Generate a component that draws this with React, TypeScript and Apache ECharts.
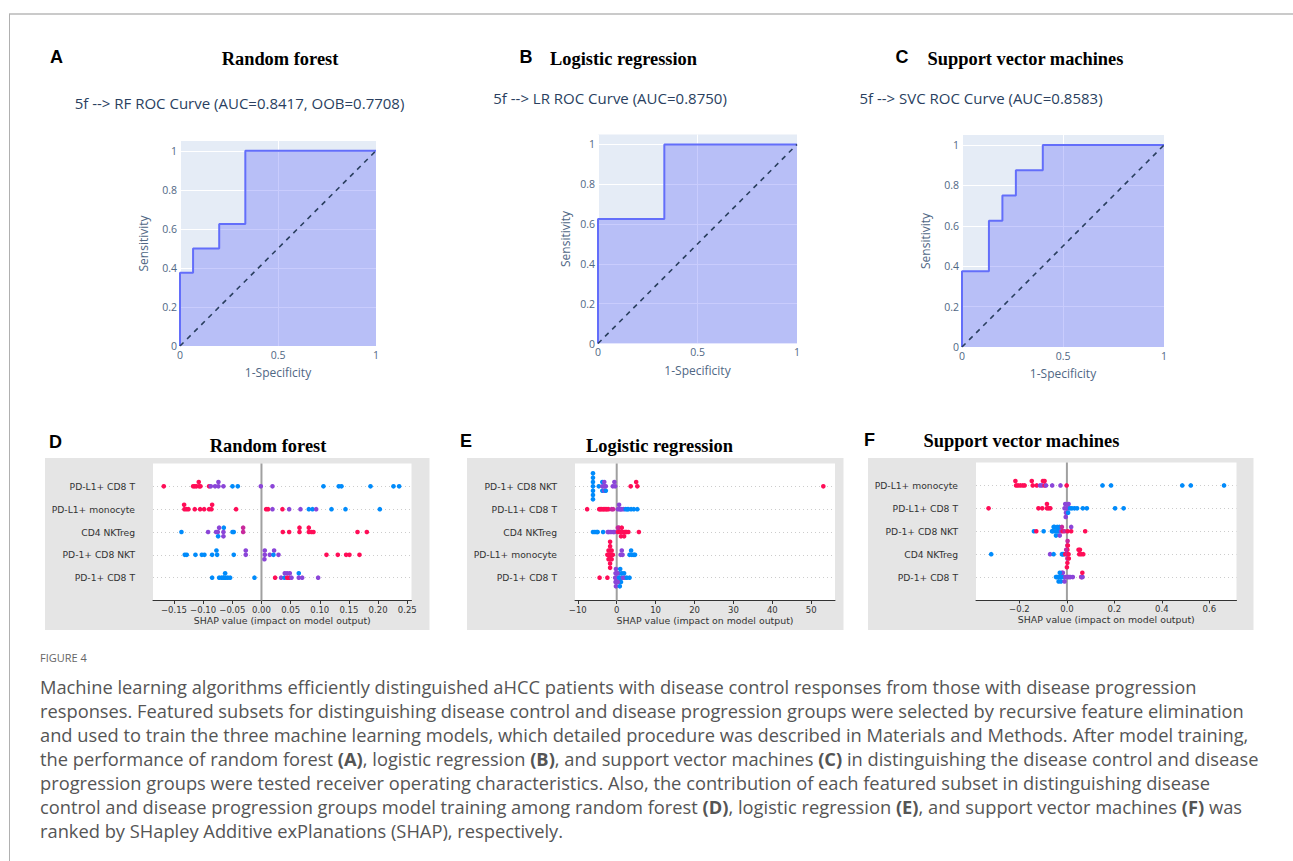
import React, { useEffect, useRef } from "react";
import * as echarts from "echarts";

// ---------------- ROC data ----------------
const rocXTicks = [0, 0.5, 1];
const rfFpr = [0, 0, 0.0667, 0.0667, 0.2, 0.2, 0.3333, 0.3333, 1];
const rfTpr = [0, 0.375, 0.375, 0.5, 0.5, 0.625, 0.625, 1, 1];
const lrFpr = [0, 0, 0.3333, 0.3333, 1];
const lrTpr = [0, 0.625, 0.625, 1, 1];
const svcFpr = [0, 0, 0.1333, 0.1333, 0.2, 0.2, 0.2667, 0.2667, 0.4, 0.4, 1];
const svcTpr = [0, 0.375, 0.375, 0.625, 0.625, 0.75, 0.75, 0.875, 0.875, 1, 1];
const diagX = [0, 1];
const diagY = [0, 1];
const rocSubtitles = [
  "5f --> RF ROC Curve (AUC=0.8417, OOB=0.7708)",
  "5f --> LR ROC Curve (AUC=0.8750)",
  "5f --> SVC ROC Curve (AUC=0.8583)",
];
const modelTitles = ["Random forest", "Logistic regression", "Support vector machines"];
const panelLetters = ["A", "B", "C", "D", "E", "F"];

// ---------------- SHAP data ----------------
// each point: [SHAP value, beeswarm level, feature value (0 = low/blue, 1 = high/red)]
const featuresD = ["PD-L1+ CD8 T", "PD-L1+ monocyte", "CD4 NKTreg", "PD-1+ CD8 NKT", "PD-1+ CD8 T"];
const shapD = [
  [[-0.1675,0,1],[-0.1172,0,1],[-0.1144,0,1],[-0.1115,0,1],[-0.1075,1,1],[-0.1069,0,1],[-0.1046,0,1],[-0.0898,0,1],[-0.0869,0,0.5],[-0.0795,0,0.5],[-0.0738,1,0.5],[-0.0738,0,0.5],[-0.0652,0,0.5],[-0.0497,0,0],[-0.0406,0,0],[-0.0011,0,0.5],[0.0189,0,0.5],[0.1063,0,0],[0.1326,0,0],[0.1372,0,0],[0.187,0,0],[0.2264,0,0],[0.2361,0,0]],
  [[-0.1326,1,1],[-0.1321,0,1],[-0.1286,0,1],[-0.1252,0,1],[-0.1144,0,1],[-0.1052,0,1],[-0.0983,0,1],[-0.0898,0,1],[-0.0858,0,1],[-0.0846,1,1],[-0.0435,0,1],[0.008,0,1],[0.0114,0,1],[0.0189,0,0.5],[0.036,0,1],[0.0475,0,0.5],[0.0669,0,0.5],[0.0812,0,0],[0.0875,0,0],[0.0938,0,0.5],[0.1201,0,0],[0.1441,0,0],[0.203,0,0]],
  [[-0.1372,0,0],[-0.0915,0,0.5],[-0.0778,0,0.5],[-0.0749,0,0.5],[-0.0726,1,0.5],[-0.0646,1,0],[-0.0652,0,0.5],[-0.0743,-1,0],[-0.0652,-1,0.5],[-0.0497,0,0],[-0.0475,0,0],[-0.0314,1,0.75],[-0.0314,0,0.75],[0.0366,0,1],[0.0475,0,1],[0.0652,1,1],[0.0652,0,1],[0.0812,1,1],[0.0812,0,1],[0.0858,0,1],[0.0892,0,1],[0.1647,0,1],[0.1807,0,1]],
  [[-0.1315,0,0],[-0.1281,0,0],[-0.1132,0,0],[-0.1023,0,0],[-0.0978,0,0],[-0.0846,0,0],[-0.0772,1,0],[-0.076,0,0],[-0.0475,0,0],[-0.0269,1,0.5],[-0.0269,0,0.5],[0.0057,1,0.5],[0.0057,0,0.5],[0.0051,-1,0.5],[0.0143,0,0.5],[0.0217,1,0.5],[0.0206,0,0],[0.0292,0,0.5],[0.1115,0,1],[0.1309,0,1],[0.1452,0,1],[0.1509,0,1],[0.1681,0,1]],
  [[-0.0846,0,0],[-0.0726,0,0],[-0.0686,0,0],[-0.0652,0,0],[-0.0645,0,0],[-0.0623,1,0],[-0.0612,0,0],[-0.0577,0,0],[-0.0537,0,0],[-0.012,0,0],[0.0234,0,1],[0.0337,0,0.5],[0.0395,0,0],[0.04,1,0.5],[0.044,0,1],[0.044,1,0.5],[0.0475,0,1],[0.0486,1,0.5],[0.0515,0,0.5],[0.064,1,0],[0.064,0,0.5],[0.0698,0,0.5],[0.0972,0,0.5]],
];
const ticksD = [-0.15, -0.1, -0.05, 0, 0.05, 0.1, 0.15, 0.2, 0.25];

const featuresE = ["PD-1+ CD8 NKT", "PD-L1+ CD8 T", "CD4 NKTreg", "PD-L1+ monocyte", "PD-1+ CD8 T"];
const shapE = [
  [[-6.1,-3,0],[-6.1,-2,0],[-6.1,-1,0],[-6.1,0,0],[-6.1,1,0],[-6.1,2,0],[-6.1,3,0],[-4.6,0,0],[-3.7,-1,0],[-3.7,0,0.5],[-3.7,1,0],[-3.2,-1,0.5],[-3.2,0,0.5],[-3.2,1,0.5],[-2.8,-1,0],[-2.8,0,0.5],[-1.0,0,0.5],[-0.6,1,0.5],[-0.4,0,0.5],[3.6,0,1],[5.0,1,1],[5.3,0,1],[53.1,0,1]],
  [[-7.6,0,1],[-4.5,0,1],[-4.2,0,1],[-3.9,0,1],[-3.5,0,1],[-3.2,0,1],[-2.8,0,1],[-2.5,0,1],[-2.1,0,1],[-1.3,0,0.75],[-0.9,0,0.75],[0.3,0,0.5],[0.6,1,0.5],[0.8,0,0.5],[1.0,0,0.5],[1.3,0,0.5],[1.8,0,0.5],[2.3,0,0],[2.7,0,0],[3.0,0,0],[3.7,0,0],[4.4,0,0],[5.3,0,0]],
  [[-6.1,0,0],[-5.6,0,0],[-5.1,0,0],[-4.9,0,0],[-3.5,0,0],[-2.3,0,0.5],[-2.0,0,0.5],[-1.5,0,0.5],[-0.9,0,0.5],[-0.6,0,0.5],[0.3,1,0.75],[0.6,1,0.75],[1.3,1,1],[0.3,0,1],[0.9,0,1],[1.5,0,1],[2.0,0,1],[2.3,0,1],[2.5,0,1],[3.0,0,1],[1.1,-1,1],[1.9,-1,1],[5.7,0,1]],
  [[-1.7,-3,1],[-1.7,-2,1],[-1.7,-1,1],[-1.7,0,1],[-1.7,1,1],[-1.7,2,1],[-1.7,3,1],[-2.1,0,1],[-1.3,0,1],[-2.1,1,1],[-1.3,-1,1],[-2.1,-1,1],[-1.3,1,1],[-2.4,0,1],[-1.0,0,1],[1.0,0,0.5],[1.3,1,0.5],[1.5,0,0.5],[3.3,0,0],[3.7,1,0],[3.9,0,0],[4.4,0,0],[4.7,0,0]],
  [[-4.4,0,1],[-2.4,0,1],[-0.4,0,0.5],[0.0,0,0.5],[0.6,0,0],[1.1,0,0],[1.6,0,0.5],[2.1,0,0.5],[3.3,0,0],[-0.3,1,0.5],[0.6,1,0],[1.3,1,0],[-0.3,-1,0.5],[0.6,-1,0],[1.1,-1,0],[-0.2,2,0.5],[0.9,2,0],[-0.2,-2,0.5],[0.8,-2,0],[0.2,1,0.5],[0.3,-1,0.5],[2.6,0,0],[1.9,1,0]],
];
const ticksE = [-10, 0, 10, 20, 30, 40, 50];

const featuresF = ["PD-L1+ monocyte", "PD-L1+ CD8 T", "PD-1+ CD8 NKT", "CD4 NKTreg", "PD-1+ CD8 T"];
const shapF = [
  [[-0.217,1,1],[-0.148,1,1],[-0.101,1,1],[-0.094,1,1],[-0.214,0,1],[-0.206,0,1],[-0.196,0,1],[-0.186,0,1],[-0.178,0,1],[-0.144,0,1],[-0.127,0,1],[-0.113,0,0.5],[-0.105,0,0.5],[-0.094,0,1],[-0.088,0,0.5],[-0.062,0,0.5],[-0.027,0,0.5],[-0.001,0,1],[0.15,0,0],[0.186,0,0],[0.486,0,0],[0.522,0,0],[0.662,0,0]],
  [[-0.33,0,1],[-0.12,0,1],[-0.104,0,1],[-0.084,1,1],[-0.084,0,1],[-0.077,0,1],[-0.07,0,1],[-0.007,1,0.5],[0.007,1,0.5],[-0.01,0,0.5],[-0.001,0,0.5],[0.007,0,0.5],[-0.004,-1,0.5],[0.005,-1,0],[-0.005,-2,0.5],[0.013,0,0],[0.021,0,0],[0.032,0,0],[0.043,0,0],[0.067,0,0],[0.084,0,0],[0.203,0,0],[0.239,0,0]],
  [[-0.139,0,0],[-0.129,0,1],[-0.098,0,0],[-0.063,0,0],[-0.059,0,0],[-0.05,0,0],[-0.042,0,0],[-0.038,0,0],[-0.034,0,0],[-0.025,0,0.5],[-0.018,0,1],[-0.01,0,0.75],[0.003,0,1],[0.018,0,1],[0.077,0,1],[-0.056,1,0],[-0.052,1,0],[-0.041,1,0],[-0.032,1,0],[-0.021,1,0.75],[0.018,1,0.5],[-0.046,-1,0],[-0.03,-1,0.5]],
  [[-0.319,0,0],[-0.071,0,0.5],[-0.056,0,0],[-0.021,0,0],[-0.018,0,0],[-0.014,0,0],[-0.007,0,1],[0.002,0,0.75],[0.007,0,1],[0.002,-2,1],[0.002,-1,0.75],[0.002,1,1],[0.002,2,0.75],[0.003,3,0.75],[0.0,-3,1],[-0.003,1,0.75],[0.008,-1,1],[0.004,2,1],[0.049,1,1],[0.055,1,1],[0.052,0,1],[0.06,0,1],[0.069,0,1]],
  [[-0.021,1,0.5],[-0.046,0,0],[-0.043,0,0],[-0.038,0,0],[-0.032,0,0],[-0.027,0,0],[-0.021,0,0],[-0.014,0,0],[-0.007,0,0.5],[0.001,0,0.5],[0.005,0,0.5],[0.01,0,0.5],[0.015,0,0.5],[0.025,0,0.5],[-0.035,-1,0],[-0.025,-1,0],[-0.01,-1,0.5],[-0.017,1,0.5],[-0.03,1,0],[0.06,0,0.75],[0.062,0,0.5],[0.066,0,0.5],[0.065,1,1]],
];
const ticksF = [-0.2, 0, 0.2, 0.4, 0.6];

const captionHeading = "FIGURE 4";
const captionLines = [
  "Machine learning algorithms efficiently distinguished aHCC patients with disease control responses from those with disease progression",
  "responses. Featured subsets for distinguishing disease control and disease progression groups were selected by recursive feature elimination",
  "and used to train the three machine learning models, which detailed procedure was described in Materials and Methods. After model training,",
  "the performance of random forest {b|(A)}, logistic regression {b|(B)}, and support vector machines {b|(C)} in distinguishing the disease control and disease",
  "progression groups were tested receiver operating characteristics. Also, the contribution of each featured subset in distinguishing disease",
  "control and disease progression groups model training among random forest {b|(D)}, logistic regression {b|(E)}, and support vector machines {b|(F)} was",
  "ranked by SHapley Additive exPlanations (SHAP), respectively.",
];

// ---------------- styling ----------------
const FONT_SERIF = '"Liberation Serif", "Times New Roman", serif';
const FONT_SANS = '"Liberation Sans", Arial, sans-serif';
const FONT_PLOTLY = '"Open Sans", "Noto Sans", sans-serif';
const FONT_MPL = '"DejaVu Sans", sans-serif';
const FONT_CAPTION = '"Open Sans", "Noto Sans", sans-serif';
const CAPTION_SIZE = 18.3;
const JITTER = 0.19;

function shapColor(c: number) {
  if (c <= 0.25) return "#008bfb";
  if (c <= 0.6) return "#8b45d8";
  if (c <= 0.85) return "#c8289c";
  return "#ff0d57";
}
const minus = (s: string) => s.replace("-", "\u2212");

function toPairs(xs: number[], ys: number[]) {
  return xs.map((x, i) => [x, ys[i]]);
}
function shapPoints(rows: number[][][]) {
  const out: number[][] = [];
  rows.forEach((row, i) => {
    const base = rows.length - 1 - i;
    row.forEach(([v, lvl, c]) => out.push([v, base + lvl * JITTER, c]));
  });
  return out;
}

export default function App() {
  const ref = useRef<HTMLDivElement>(null);
  useEffect(() => {
    document.body.style.margin = "0";
    const chart = echarts.init(ref.current!, null, { renderer: "svg" });

    const rocGrids = [
      { left: 180, top: 141, width: 196, height: 205 },
      { left: 598, top: 134.5, width: 199, height: 209 },
      { left: 962, top: 135, width: 202, height: 212 },
    ];
    const rocNameGaps = [
      { x: 20.5, y: 30.5 },
      { x: 21, y: 27 },
      { x: 20.5, y: 31 },
    ];
    const shapGrids = [
      { left: 153, top: 463.5, width: 258.5, height: 137 },
      { left: 575, top: 463.5, width: 260, height: 137 },
      { left: 976, top: 462.5, width: 260.5, height: 137.5 },
    ];
    const shapRanges = [
      { min: -0.186, max: 0.2573 },
      { min: -10.72, max: 56.1 },
      { min: -0.383, max: 0.7145 },
    ];
    const shapTicks = [ticksD, ticksE, ticksF];
    const shapFmt = [
      (v: number) => minus(v.toFixed(2)),
      (v: number) => minus(v.toFixed(0)),
      (v: number) => minus(v.toFixed(1)),
    ];
    const shapFeatures = [featuresD, featuresE, featuresF];
    const shapData = [shapD, shapE, shapF];
    const rocData = [
      [rfFpr, rfTpr],
      [lrFpr, lrTpr],
      [svcFpr, svcTpr],
    ];

    const grid: any[] = [];
    const xAxis: any[] = [];
    const yAxis: any[] = [];
    const series: any[] = [];

    rocGrids.forEach((g, i) => {
      grid.push({ ...g, show: true, backgroundColor: "#e5ecf6", borderWidth: 0 });
      xAxis.push({
        type: "value", gridIndex: i, min: 0, max: 1, interval: 0.5,
        axisLine: { show: false }, axisTick: { show: false },
        axisLabel: { color: "#506784", fontSize: 10.5, fontFamily: FONT_PLOTLY, margin: 3, customValues: rocXTicks },
        splitLine: { show: true, lineStyle: { color: "#ffffff", width: 1 } },
        name: "1-Specificity", nameLocation: "middle", nameGap: rocNameGaps[i].x,
        nameTextStyle: { color: "#506784", fontSize: 12, fontFamily: FONT_PLOTLY },
      });
      yAxis.push({
        type: "value", gridIndex: i, min: 0, max: 1.05, interval: 0.2,
        axisLine: { show: false }, axisTick: { show: false },
        axisLabel: { color: "#506784", fontSize: 10.5, fontFamily: FONT_PLOTLY, margin: 3, showMaxLabel: false },
        splitLine: { show: true, showMaxLine: false, lineStyle: { color: "#ffffff", width: 1 } },
        name: "Sensitivity", nameLocation: "middle", nameGap: rocNameGaps[i].y,
        nameTextStyle: { color: "#506784", fontSize: 12, fontFamily: FONT_PLOTLY },
      });
      series.push({
        type: "line", xAxisIndex: i, yAxisIndex: i, data: toPairs(rocData[i][0], rocData[i][1]),
        symbol: "none", showSymbol: false, silent: true,
        lineStyle: { color: "#636efa", width: 2 },
        areaStyle: { color: "rgba(99,110,250,0.5)", origin: "start" },
        z: 2,
      });
      series.push({
        type: "line", xAxisIndex: i, yAxisIndex: i, data: toPairs(diagX, diagY),
        symbol: "none", showSymbol: false, silent: true,
        lineStyle: { color: "#2a3f5f", width: 1.6, type: [5, 5] },
        z: 3,
      });
    });

    shapGrids.forEach((g, k) => {
      const gi = k + 3;
      const feats = shapFeatures[k];
      grid.push({ ...g, show: true, backgroundColor: "#ffffff", borderWidth: 0 });
      xAxis.push({
        type: "value", gridIndex: gi, min: shapRanges[k].min, max: shapRanges[k].max,
        axisLine: { show: true, onZero: false, lineStyle: { color: "#333333", width: 1 } },
        axisTick: { show: true, customValues: shapTicks[k], length: 3.5, lineStyle: { color: "#333333" } },
        axisLabel: { customValues: shapTicks[k], formatter: shapFmt[k], color: "#333333", fontSize: 8.5, fontFamily: FONT_MPL, margin: 4.5 },
        splitLine: { show: false },
        name: "SHAP value (impact on model output)", nameLocation: "middle", nameGap: 15,
        nameTextStyle: { color: "#333333", fontSize: 9.4, fontFamily: FONT_MPL },
      });
      yAxis.push({
        type: "value", gridIndex: gi, min: -1, max: 5, interval: 1,
        axisLine: { show: false }, axisTick: { show: false },
        axisLabel: {
          color: "#333333", fontSize: 9.2, fontFamily: FONT_MPL, margin: 18,
          formatter: (v: number) => (Number.isInteger(v) && v >= 0 && v <= 4 ? feats[4 - v] : ""),
        },
        splitLine: { show: true, showMinLine: false, showMaxLine: false, lineStyle: { color: "#cccccc", width: 1, type: [1, 3] } },
      });
      series.push({
        type: "line", xAxisIndex: gi, yAxisIndex: gi, data: [[0, -1], [0, 5]],
        symbol: "none", showSymbol: false, silent: true,
        lineStyle: { color: "#a0a0a0", width: 2 }, z: 1,
      });
      series.push({
        type: "scatter", xAxisIndex: gi, yAxisIndex: gi, data: shapPoints(shapData[k]),
        symbol: "circle", symbolSize: 4.6, silent: true,
        itemStyle: { color: (p: any) => shapColor(p.data[2]), opacity: 1 },
        z: 3,
      });
    });

    const graphic: any[] = [];
    graphic.push({ type: "line", shape: { x1: 9, y1: 14, x2: 1293, y2: 14 }, style: { stroke: "#cacaca", lineWidth: 2 } });
    graphic.push({ type: "line", shape: { x1: 9.5, y1: 14, x2: 9.5, y2: 861 }, style: { stroke: "#b0b0b0", lineWidth: 1 } });
    // SHAP gray panels
    [
      { x: 45, y: 458, w: 384.5, h: 172 },
      { x: 467, y: 458, w: 376.5, h: 172 },
      { x: 868, y: 458, w: 385.5, h: 172 },
    ].forEach((r) =>
      graphic.push({ type: "rect", z: -10, shape: { x: r.x, y: r.y, width: r.w, height: r.h }, style: { fill: "#e5e5e5" } })
    );
    const letterPos = [
      [56.5, 57], [526, 57], [902, 57], [55.5, 441.5], [466, 440.5], [869.5, 440],
    ];
    panelLetters.forEach((t, i) =>
      graphic.push({
        type: "text", x: letterPos[i][0], y: letterPos[i][1],
        style: { text: t, fill: "#000", fontSize: 18, fontWeight: "bold", fontFamily: FONT_SANS, textAlign: "center", textVerticalAlign: "middle" },
      })
    );
    const titlePos = [
      [280, 59], [623.5, 59], [1025.5, 59], [268, 445.5], [659.5, 445.5], [1021.5, 441],
    ];
    titlePos.forEach((p, i) =>
      graphic.push({
        type: "text", x: p[0], y: p[1],
        style: { text: modelTitles[i % 3], fill: "#000", fontSize: 18.4, fontWeight: "bold", fontFamily: FONT_SERIF, textAlign: "center", textVerticalAlign: "middle" },
      })
    );
    const subPos = [[239.5, 103], [610, 97.5], [981, 97.5]];
    subPos.forEach((p, i) =>
      graphic.push({
        type: "text", x: p[0], y: p[1],
        style: { text: rocSubtitles[i], fill: "#2a3f5f", fontSize: 15, fontFamily: FONT_PLOTLY, textAlign: "center", textVerticalAlign: "middle" },
      })
    );
    graphic.push({
      type: "text", x: 40, y: 657,
      style: { text: captionHeading, fill: "#666666", fontSize: 11, fontFamily: FONT_CAPTION, textAlign: "left", textVerticalAlign: "middle" },
    });
    captionLines.forEach((line, i) =>
      graphic.push({
        type: "text", x: 40, y: 686 + i * 24,
        style: {
          text: line, fill: "#555555", fontSize: CAPTION_SIZE, fontFamily: FONT_CAPTION, textAlign: "left", textVerticalAlign: "middle",
          rich: { b: { fontWeight: "bold", fontSize: CAPTION_SIZE, fontFamily: FONT_CAPTION, fill: "#555555" } },
        },
      })
    );

    chart.setOption({
      animation: false,
      backgroundColor: "#ffffff",
      grid, xAxis, yAxis, series, graphic,
    });
    return () => chart.dispose();
  }, []);
  return <div ref={ref} style={{ width: 1293, height: 861 }} />;
}
